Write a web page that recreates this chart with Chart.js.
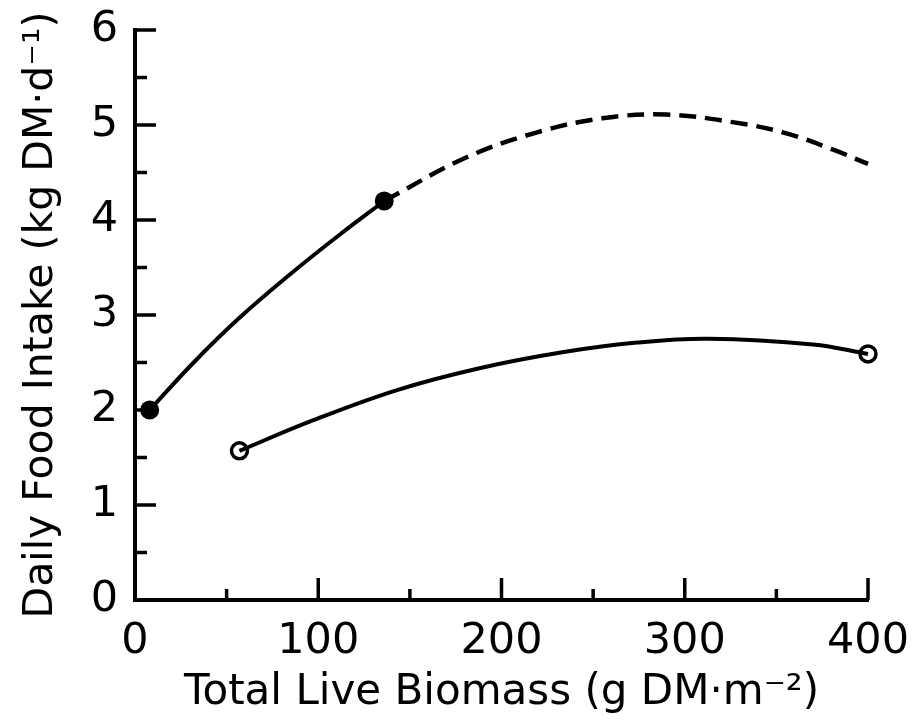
<!DOCTYPE html>
<html>
<head>
<meta charset="utf-8">
<script src="https://cdn.jsdelivr.net/npm/chart.js@4/dist/chart.umd.min.js"></script>
<style>
  html, body { margin: 0; padding: 0; background: #fff; }
</style>
</head>
<body>
<canvas id="chart" width="917" height="727"></canvas>
<script>
// measured points (filled = upper series, open = lower series)
const filledX = [8, 136];
const filledY = [2.0, 4.2];
const openX = [57, 400];
const openY = [1.57, 2.59];

// curves
const upperSolidX = [8, 32, 57, 86, 112, 136];
const upperSolidY = [2.0, 2.5, 2.97, 3.45, 3.85, 4.2];
const upperDashX = [136, 181, 219, 255, 290, 326, 354, 381, 400];
const upperDashY = [4.2, 4.66, 4.92, 5.07, 5.11, 5.03, 4.92, 4.74, 4.59];
const lowerX = [57, 97, 143, 188, 234, 274, 313, 370, 400];
const lowerY = [1.57, 1.89, 2.21, 2.44, 2.61, 2.71, 2.75, 2.69, 2.59];

// tick marks
const xMajorTicks = [0, 100, 200, 300, 400];
const xMinorTicks = [50, 150, 250, 350];
const yMajorTicks = [0, 1, 2, 3, 4, 5, 6];
const yMinorTicks = [0.5, 1.5, 2.5, 3.5, 4.5, 5.5];

const FONT = "'DejaVu Sans', sans-serif";

function pts(xs, ys) {
    return xs.map((x, i) => ({x: x, y: ys[i]}));
}

function curve(xs, ys, dash) {
    return {
        data: pts(xs, ys),
        showLine: true,
        borderColor: '#000',
        borderWidth: dash ? 4.5 : 4,
        borderDash: dash || [],
        borderCapStyle: 'butt',
        pointRadius: 0,
        tension: 0.4,
        clip: false
    };
}

// ticks drawn inside the axes, as in the original figure
const inwardTicks = {
    id: 'inwardTicks',
    afterDraw(chart) {
        const {ctx, scales: {x, y}} = chart;
        ctx.save();
        ctx.strokeStyle = '#000';
        ctx.lineWidth = 3.5;
        ctx.lineCap = 'butt';
        ctx.beginPath();
        xMajorTicks.forEach(v => {
            const px = x.getPixelForValue(v);
            ctx.moveTo(px, y.bottom); ctx.lineTo(px, y.bottom - 22);
        });
        xMinorTicks.forEach(v => {
            const px = x.getPixelForValue(v);
            ctx.moveTo(px, y.bottom); ctx.lineTo(px, y.bottom - 11);
        });
        yMajorTicks.forEach(v => {
            const py = y.getPixelForValue(v);
            ctx.moveTo(x.left, py); ctx.lineTo(x.left + 21, py);
        });
        yMinorTicks.forEach(v => {
            const py = y.getPixelForValue(v);
            ctx.moveTo(x.left, py); ctx.lineTo(x.left + 12, py);
        });
        ctx.stroke();
        ctx.restore();
    }
};

new Chart(document.getElementById('chart'), {
    type: 'scatter',
    data: {
        datasets: [
            curve(upperSolidX, upperSolidY),
            curve(upperDashX, upperDashY, [17, 9]),
            curve(lowerX, lowerY),
            {
                data: pts(filledX, filledY),
                pointRadius: 9.5,
                pointBackgroundColor: '#000',
                pointBorderColor: '#000',
                pointBorderWidth: 0,
                clip: false
            },
            {
                data: pts(openX, openY),
                pointRadius: 8,
                pointBackgroundColor: '#fff',
                pointBorderColor: '#000',
                pointBorderWidth: 3.5,
                clip: false
            }
        ]
    },
    options: {
        responsive: false,
        animation: false,
        events: [],
        layout: {autoPadding: false, padding: {top: 30, right: 49, bottom: 0, left: 0}},
        plugins: {legend: {display: false}, tooltip: {enabled: false}},
        scales: {
            x: {
                type: 'linear',
                min: 0,
                max: 400,
                grid: {display: false, drawTicks: false},
                border: {display: true, color: '#000', width: 4},
                ticks: {
                    stepSize: 100,
                    color: '#000',
                    padding: 16,
                    maxRotation: 0,
                    font: {family: FONT, size: 43}
                },
                title: {
                    display: true,
                    text: 'Total Live Biomass (g DM\u00b7m\u207b\u00b2)',
                    color: '#000',
                    font: {family: FONT, size: 42},
                    padding: {top: 0, bottom: 9}
                },
                afterFit(s) {
                    s.height = 127;
                    s.paddingLeft = 0;
                    s.paddingRight = 0;
                }
            },
            y: {
                min: 0,
                max: 6,
                grid: {display: false, drawTicks: false},
                border: {display: true, color: '#000', width: 4},
                ticks: {
                    stepSize: 1,
                    color: '#000',
                    padding: 17,
                    font: {family: FONT, size: 43}
                },
                title: {
                    display: true,
                    text: 'Daily Food Intake (kg DM\u00b7d\u207b\u00b9)',
                    color: '#000',
                    font: {family: FONT, size: 41},
                    padding: {top: 17, bottom: 0}
                },
                afterFit(s) {
                    s.width = 135;
                    s.paddingTop = 0;
                    s.paddingBottom = 0;
                }
            }
        }
    },
    plugins: [inwardTicks]
});
</script>
</body>
</html>
